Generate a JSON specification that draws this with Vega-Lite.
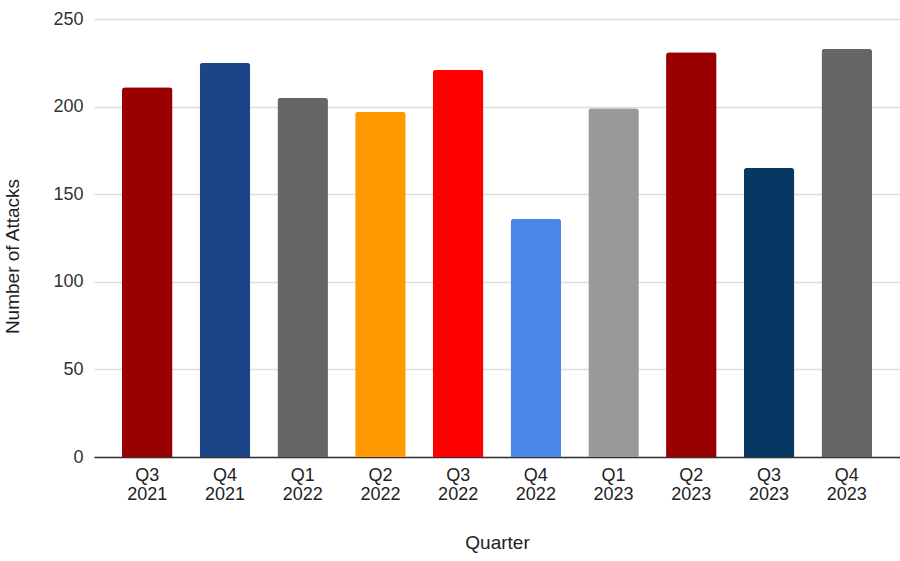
{
  "$schema": "https://vega.github.io/schema/vega-lite/v6.json",
  "width": 806,
  "height": 438,
  "autosize": "none",
  "padding": {"left": 94, "top": 19, "right": 0, "bottom": 104},
  "background": "white",
  "data": {
    "values": [
      {"quarter": "Q3 2021", "attacks": 211},
      {"quarter": "Q4 2021", "attacks": 225},
      {"quarter": "Q1 2022", "attacks": 205},
      {"quarter": "Q2 2022", "attacks": 197},
      {"quarter": "Q3 2022", "attacks": 221},
      {"quarter": "Q4 2022", "attacks": 136},
      {"quarter": "Q1 2023", "attacks": 199},
      {"quarter": "Q2 2023", "attacks": 231},
      {"quarter": "Q3 2023", "attacks": 165},
      {"quarter": "Q4 2023", "attacks": 233}
    ]
  },
  "mark": {"type": "bar", "cornerRadiusTopLeft": 3, "cornerRadiusTopRight": 3},
  "encoding": {
    "x": {
      "field": "quarter",
      "type": "nominal",
      "sort": null,
      "scale": {"paddingInner": 0.35, "paddingOuter": 0.36},
      "axis": {
        "title": "Quarter",
        "titleFont": "Liberation Sans",
        "titleFontSize": 19,
        "titleFontWeight": "normal",
        "titleColor": "#222222",
        "titlePadding": 30,
        "labelAngle": 0,
        "labelExpr": "split(datum.label, ' ')",
        "labelFont": "Liberation Sans",
        "labelFontSize": 18,
        "labelLineHeight": 19,
        "labelColor": "#222222",
        "labelPadding": 9,
        "ticks": false,
        "domainColor": "#333333",
        "domainWidth": 1.5
      }
    },
    "y": {
      "field": "attacks",
      "type": "quantitative",
      "scale": {"domain": [0, 250]},
      "axis": {
        "title": "Number of Attacks",
        "titleFont": "Liberation Sans",
        "titleFontSize": 19,
        "titleFontWeight": "normal",
        "titleColor": "#222222",
        "titlePadding": 30,
        "titleY": 237,
        "values": [0, 50, 100, 150, 200, 250],
        "labelFont": "Liberation Sans",
        "labelFontSize": 18,
        "labelColor": "#333333",
        "labelPadding": 11,
        "ticks": false,
        "domain": false,
        "gridColor": "#dddddd",
        "gridWidth": 1.3
      }
    },
    "color": {
      "field": "quarter",
      "type": "nominal",
      "legend": null,
      "scale": {
        "domain": ["Q3 2021", "Q4 2021", "Q1 2022", "Q2 2022", "Q3 2022", "Q4 2022", "Q1 2023", "Q2 2023", "Q3 2023", "Q4 2023"],
        "range": ["#990000", "#1c4587", "#666666", "#ff9900", "#ff0000", "#4a86e8", "#999999", "#990000", "#073763", "#666666"]
      }
    }
  },
  "config": {"view": {"stroke": null}}
}
